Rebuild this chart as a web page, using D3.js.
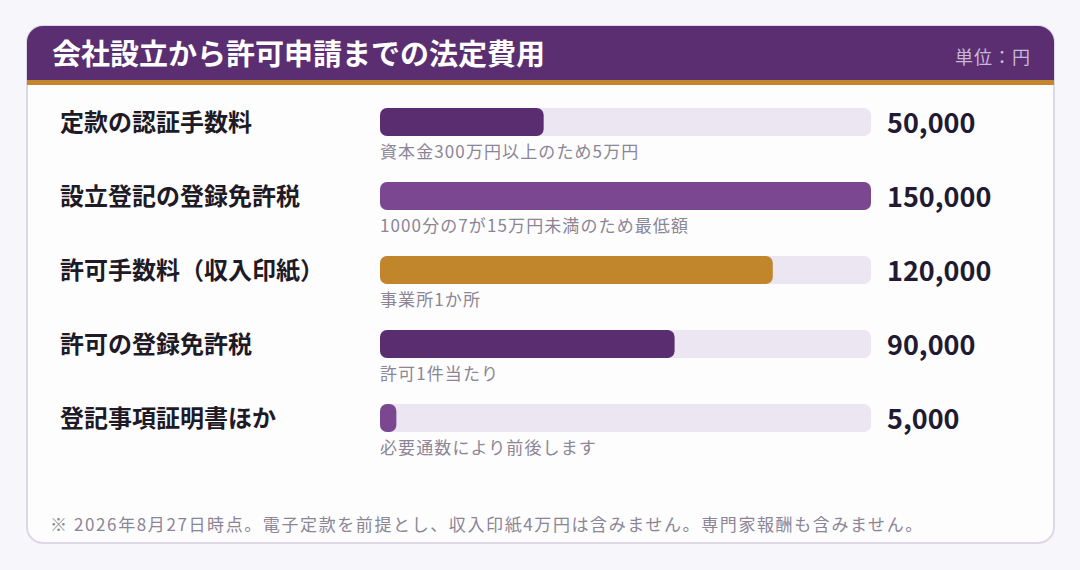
<!DOCTYPE html>
<html lang="ja">
<head>
<meta charset="utf-8">
<script src="https://cdn.jsdelivr.net/npm/d3@7"></script>
<style>
  html, body { margin: 0; padding: 0; background: #f7f6fa; }
  svg { display: block; font-family: "Noto Sans CJK JP", "Noto Sans", sans-serif; }
</style>
</head>
<body>
<div id="chart"></div>
<script>
// Data
const items = ["定款の認証手数料", "設立登記の登録免許税", "許可手数料（収入印紙）", "許可の登録免許税", "登記事項証明書ほか"];
const costs = [50000, 150000, 120000, 90000, 5000];
const notes = ["資本金300万円以上のため5万円", "1000分の7が15万円未満のため最低額", "事業所1か所", "許可1件当たり", "必要通数により前後します"];
const barColors = ["#5a2d70", "#7a4790", "#c1852c", "#5a2d70", "#7a4790"];
const title = "会社設立から許可申請までの法定費用";
const unitLabel = "単位：円";
const footnote = "※ 2026年8月27日時点。電子定款を前提とし、収入印紙4万円は含みません。専門家報酬も含みません。";

const W = 1080, H = 570;
const card = { x: 27, y: 26, w: 1027, h: 517, r: 16, head: 54 };

const svg = d3.select("#chart").append("svg")
    .attr("width", W)
    .attr("height", H);

// card
svg.append("rect")
    .attr("x", card.x).attr("y", card.y)
    .attr("width", card.w).attr("height", card.h)
    .attr("rx", card.r)
    .attr("fill", "#fdfdfe")
    .attr("stroke", "#ddd7e8")
    .attr("stroke-width", 2);

// header (rounded top only)
const clip = svg.append("clipPath").attr("id", "cardclip");
clip.append("rect")
    .attr("x", card.x).attr("y", card.y)
    .attr("width", card.w).attr("height", card.h)
    .attr("rx", card.r);

const head = svg.append("g").attr("clip-path", "url(#cardclip)");
head.append("rect")
    .attr("x", card.x).attr("y", card.y)
    .attr("width", card.w).attr("height", card.head)
    .attr("fill", "#5b2e72");
head.append("rect")
    .attr("x", card.x).attr("y", card.y + card.head)
    .attr("width", card.w).attr("height", 5)
    .attr("fill", "#c4862c");

svg.append("text")
    .attr("x", 52).attr("y", 65)
    .attr("fill", "#ffffff")
    .style("font-size", "29px")
    .style("font-weight", "bold")
    .text(title);

svg.append("text")
    .attr("x", 1031).attr("y", 64)
    .attr("text-anchor", "end")
    .attr("fill", "#c9b9d8")
    .style("font-size", "18px")
    .style("letter-spacing", "1px")
    .text(unitLabel);

// scales
const x = d3.scaleLinear()
    .domain([0, d3.max(costs)])
    .range([380, 871]);

const y = d3.scaleBand()
    .domain(items)
    .range([108, 108 + 74 * items.length])
    .paddingInner(0)
    .align(0);

const barH = 28;

const rows = svg.selectAll("g.row")
    .data(items)
    .join("g")
    .attr("class", "row")
    .attr("transform", d => `translate(0,${y(d)})`);

// track
rows.append("rect")
    .attr("x", x(0))
    .attr("width", x.range()[1] - x(0))
    .attr("height", barH)
    .attr("rx", 7)
    .attr("fill", "#ebe6f1");

// bar
rows.append("rect")
    .attr("x", x(0))
    .attr("width", (d, i) => x(costs[i]) - x(0))
    .attr("height", barH)
    .attr("rx", 7)
    .attr("fill", (d, i) => barColors[i]);

// item label
rows.append("text")
    .attr("x", 60)
    .attr("y", 23)
    .attr("fill", "#1e1a26")
    .style("font-size", "24px")
    .style("font-weight", "bold")
    .text(d => d);

// value
rows.append("text")
    .attr("x", 887)
    .attr("y", 25)
    .attr("fill", "#221a33")
    .style("font-size", "27px")
    .style("font-weight", "bold")
    .text((d, i) => d3.format(",")(costs[i]));

// note under bar
rows.append("text")
    .attr("x", 380)
    .attr("y", 50)
    .attr("fill", "#8b8596")
    .style("font-size", "17px")
    .style("letter-spacing", "1.1px")
    .text((d, i) => notes[i]);

// footnote
svg.append("text")
    .attr("x", 50).attr("y", 531)
    .attr("fill", "#8b8596")
    .style("font-size", "17px")
    .style("letter-spacing", "1.6px")
    .text(footnote);
</script>
</body>
</html>
